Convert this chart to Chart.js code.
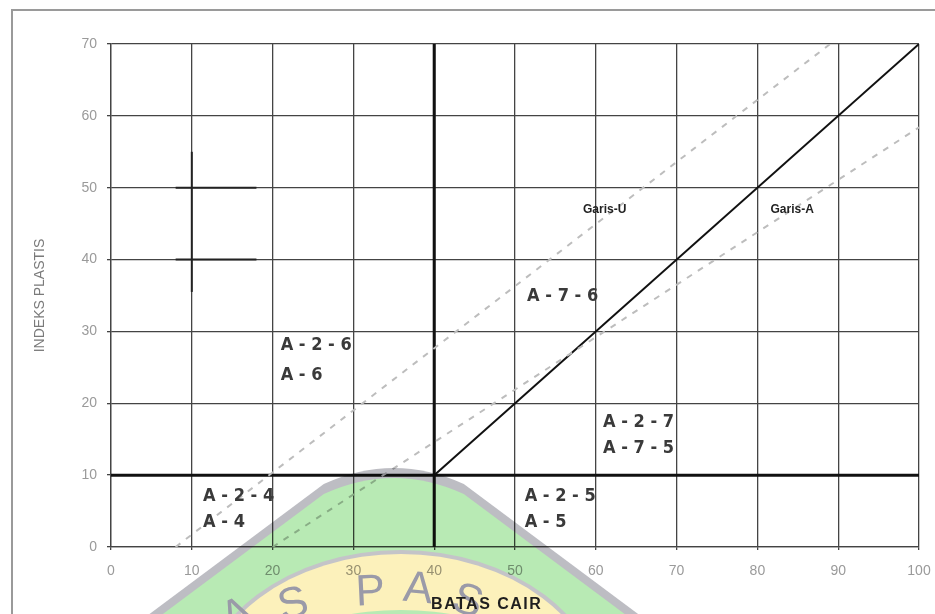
<!DOCTYPE html>
<html>
<head>
<meta charset="utf-8">
<script src="https://cdn.jsdelivr.net/npm/chart.js@4.4.1/dist/chart.umd.min.js"></script>
<style>
  html, body { margin: 0; padding: 0; background: #fff; }
  canvas { display: block; }
</style>
</head>
<body>
<canvas id="chart" width="935" height="614"></canvas>
<script>
// axis ticks
var xTickLabels = ['0', '10', '20', '30', '40', '50', '60', '70', '80', '90', '100'];
var yTickLabels = ['0', '10', '20', '30', '40', '50', '60', '70'];

// boundary lines (batas cair = LL, indeks plastis = PI)
var garisA_LL = [40, 100];
var garisA_PI = [10, 70];
var garisU_LL = [8, 89];
var garisU_PI = [0, 70];
var casagrande_LL = [20, 100];
var casagrande_PI = [0, 58.4];
var batas40_LL = [40, 40];
var batas40_PI = [0, 70];
var batas10_LL = [0, 100];
var batas10_PI = [10, 10];

// small cross marks on the left
var crossV_LL = [10, 10];
var crossV_PI = [35.5, 55];
var cross50_LL = [8, 18];
var cross50_PI = [50, 50];
var cross40_LL = [8, 18];
var cross40_PI = [40, 40];

// group labels
var zoneNames = ['A - 2 - 6', 'A - 6', 'A - 2 - 4', 'A - 4', 'A - 7 - 6', 'A - 2 - 7', 'A - 7 - 5', 'A - 2 - 5', 'A - 5'];
var zoneLL = [21, 21, 11.4, 11.4, 51.5, 60.9, 60.9, 51.2, 51.2];
var zonePI = [28.1, 23.9, 7.0, 3.5, 34.9, 17.4, 13.8, 7.0, 3.5];

var garisNames = ['Garis-U', 'Garis-A'];
var garisLL = [61.1, 84.3];
var garisPI = [46.9, 46.9];

function pts(xs, ys) {
    return xs.map(function (x, i) { return { x: x, y: ys[i] }; });
}

function line(xs, ys, color, width, dash) {
    return {
        data: pts(xs, ys),
        showLine: true,
        borderColor: color,
        borderWidth: width,
        borderDash: dash || [],
        pointRadius: 0,
        fill: false
    };
}

var framePlugin = {
    id: 'frame',
    beforeDraw: function (chart) {
        var ctx = chart.ctx;
        ctx.save();
        ctx.fillStyle = '#fff';
        ctx.fillRect(0, 0, chart.width, chart.height);
        ctx.strokeStyle = '#9a9a9a';
        ctx.lineWidth = 2;
        ctx.beginPath();
        ctx.moveTo(12, chart.height);
        ctx.lineTo(12, 10);
        ctx.lineTo(chart.width, 10);
        ctx.stroke();
        ctx.restore();
    }
};

var labelPlugin = {
    id: 'labels',
    afterDatasetsDraw: function (chart) {
        var ctx = chart.ctx, xs = chart.scales.x, ys = chart.scales.y;
        ctx.save();
        ctx.fillStyle = '#3a3a3a';
        ctx.font = 'bold 18px "DejaVu Sans Condensed"';
        ctx.textAlign = 'left';
        ctx.textBaseline = 'middle';
        zoneNames.forEach(function (t, i) {
            ctx.fillText(t, xs.getPixelForValue(zoneLL[i]), ys.getPixelForValue(zonePI[i]));
        });
        ctx.fillStyle = '#222';
        ctx.font = 'bold 12px "Liberation Sans"';
        ctx.textAlign = 'center';
        garisNames.forEach(function (t, i) {
            ctx.fillText(t, xs.getPixelForValue(garisLL[i]), ys.getPixelForValue(garisPI[i]));
        });
        ctx.restore();
    }
};

// faint logo stamped over the lower middle of the picture
var stampPlugin = {
    id: 'stamp',
    afterDraw: function (chart) {
        var ctx = chart.ctx;
        var px = chart.scales.x.getPixelForValue(35);
        var py = chart.scales.y.getPixelForValue(11);
        var off = document.createElement('canvas');
        off.width = chart.width;
        off.height = chart.height;
        var o = off.getContext('2d');
        o.fillStyle = '#fff';
        o.fillRect(0, 0, off.width, off.height);
        function cone(dy) {
            o.beginPath();
            o.moveTo(px - 330, py + dy + 210);
            o.lineTo(px - 70, py + dy + 16);
            o.quadraticCurveTo(px, py + dy - 16, px + 70, py + dy + 16);
            o.lineTo(px + 330, py + dy + 210);
            o.closePath();
        }
        function oval(rx, ry) {
            o.beginPath();
            o.ellipse(px + 7, py + 236, rx, ry, 0, 0, Math.PI * 2);
        }
        o.fillStyle = '#bdbdc3';
        cone(0);
        o.fill();
        o.fillStyle = '#b8eab4';
        cone(10);
        o.fill();
        o.fillStyle = '#c4c4c8';
        oval(204, 154);
        o.fill();
        o.fillStyle = '#fcf1bb';
        oval(200, 150);
        o.fill();
        o.fillStyle = '#b8eab4';
        oval(170, 94);
        o.fill();

        o.fillStyle = '#9a9aa8';
        o.font = '44px "Liberation Sans"';
        o.textAlign = 'center';
        o.textBaseline = 'alphabetic';
        [['A', -151, 159, -0.45], ['S', -97, 149, -0.28], ['P', -23, 137, -0.05], ['A', 23, 134, 0.1], ['S', 70, 146, 0.3]].forEach(function (l) {
            o.save();
            o.translate(px + l[1], py + l[2]);
            o.rotate(l[3]);
            o.fillText(l[0], 0, 0);
            o.restore();
        });

        ctx.save();
        ctx.globalCompositeOperation = 'multiply';
        ctx.drawImage(off, 0, 0);
        ctx.restore();

        ctx.save();
        ctx.fillStyle = '#1e1e1e';
        ctx.font = 'bold 16px "Liberation Sans"';
        ctx.letterSpacing = '1.5px';
        ctx.textAlign = 'center';
        ctx.textBaseline = 'middle';
        ctx.fillText('BATAS CAIR', chart.scales.x.getPixelForValue(46.5), 605);
        ctx.restore();
    }
};

var tickFont = { family: 'Liberation Sans', size: 14 };

new Chart(document.getElementById('chart'), {
    type: 'scatter',
    data: {
        datasets: [
            line(garisU_LL, garisU_PI, '#bdbdbd', 2, [6, 7]),
            line(casagrande_LL, casagrande_PI, '#bdbdbd', 2, [6, 7]),
            line(batas10_LL, batas10_PI, '#111', 3),
            line(batas40_LL, batas40_PI, '#111', 3),
            line(garisA_LL, garisA_PI, '#111', 2),
            line(crossV_LL, crossV_PI, '#222', 2),
            line(cross50_LL, cross50_PI, '#222', 2),
            line(cross40_LL, cross40_PI, '#222', 2)
        ]
    },
    options: {
        responsive: false,
        animation: false,
        devicePixelRatio: 1,
        layout: { padding: { top: 44, right: 16, left: 0, bottom: 0 } },
        plugins: { legend: { display: false }, tooltip: { enabled: false } },
        scales: {
            x: {
                type: 'linear', min: 0, max: 100,
                ticks: {
                    stepSize: 10, color: '#9a9a9a', font: tickFont, padding: 13,
                    callback: function (v, i) { return xTickLabels[i]; }
                },
                grid: { color: '#444', lineWidth: 1.3, tickLength: 3 },
                border: { color: '#444', width: 1.3 },
                afterFit: function (s) {
                    s.height = 67;
                    s.paddingLeft = 0;
                    s.paddingRight = 0;
                }
            },
            y: {
                type: 'linear', min: 0, max: 70,
                ticks: {
                    stepSize: 10, color: '#9a9a9a', font: tickFont, padding: 10,
                    callback: function (v, i) { return yTickLabels[i]; }
                },
                grid: { color: '#444', lineWidth: 1.3, tickLength: 4 },
                border: { color: '#444', width: 1.3 },
                title: {
                    display: true, text: 'INDEKS PLASTIS', color: '#7a7a7a',
                    font: { family: 'Liberation Sans', size: 14 },
                    padding: { top: 32, bottom: 0 }
                },
                afterFit: function (s) {
                    s.width = 111;
                    s.paddingTop = 0;
                    s.paddingBottom = 0;
                }
            }
        }
    },
    plugins: [framePlugin, labelPlugin, stampPlugin]
});
</script>
</body>
</html>
